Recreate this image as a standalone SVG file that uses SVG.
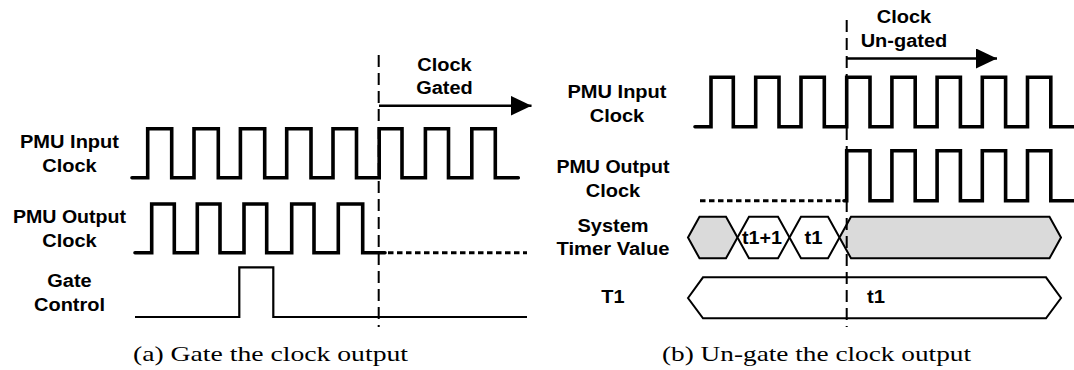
<svg xmlns="http://www.w3.org/2000/svg" width="1074" height="370" viewBox="0 0 1074 370">
<style>
.lbl{font-family:"Liberation Sans",Arial,sans-serif;font-weight:bold;font-size:18px;fill:#000;text-anchor:middle}
.cap{font-family:"Liberation Serif","Times New Roman",serif;font-size:22px;fill:#000}
.clk{fill:none;stroke:#000;stroke-width:3.6;stroke-linejoin:miter;stroke-linecap:round}
.dot{fill:none;stroke:#000;stroke-width:3;stroke-dasharray:5.5 3.5}
.thin{fill:none;stroke:#000;stroke-width:2.2}
.hexg{fill:#dadada;stroke:#000;stroke-width:2}
.hexw{fill:#fff;stroke:#000;stroke-width:2}
.vdash{fill:none;stroke:#000;stroke-width:2;stroke-dasharray:12 6}
.arr{fill:none;stroke:#000;stroke-width:2.4}
</style>
<defs>
<marker id="ah" markerUnits="userSpaceOnUse" markerWidth="22" markerHeight="22" refX="21" refY="10" orient="auto">
<polygon points="0,0 21,10 0,20" fill="#000"/>
</marker>
</defs>

<!-- Panel (a) -->
<g id="a-input-label">
<text class="lbl" x="69.5" y="147.7" textLength="99" lengthAdjust="spacingAndGlyphs">PMU Input</text>
<text class="lbl" x="69.5" y="171.7" textLength="54.5" lengthAdjust="spacingAndGlyphs">Clock</text>
</g>
<g id="a-input-clock">
<path class="clk" d="M132,177.7 H147.7 V128.7 H171.7 V177.7 H194 V128.7 H218.3 V177.7 H240.4 V128.7 H264.7 V177.7 H286.7 V128.7 H311 V177.7 H333 V128.7 H356.5 V177.7 H379.2 V128.7 H402 V177.7 H425.4 V128.7 H448.5 V177.7 H471.8 V128.7 H495.3 V177.7 H518.3"/>
</g>
<g id="a-output-label">
<text class="lbl" x="69.5" y="222.7" textLength="113" lengthAdjust="spacingAndGlyphs">PMU Output</text>
<text class="lbl" x="69.5" y="246.5" textLength="54.5" lengthAdjust="spacingAndGlyphs">Clock</text>
</g>
<g id="a-output-clock">
<path class="clk" d="M135,252.7 H151.7 V204 H174.3 V252.7 H197.3 V204 H220 V252.7 H244 V204 H266.7 V252.7 H291.7 V204 H314 V252.7 H338.3 V204 H362.7 V252.7 H385"/>
<path class="dot" d="M388,252.7 H527"/>
</g>
<g id="a-gate-label">
<text class="lbl" x="69.5" y="286.7" textLength="44.4" lengthAdjust="spacingAndGlyphs">Gate</text>
<text class="lbl" x="69.5" y="310.7" textLength="71" lengthAdjust="spacingAndGlyphs">Control</text>
</g>
<g id="a-gate-signal">
<path class="thin" d="M135,317 H239.3 V267.3 H273.3 V317 H527"/>
</g>
<g id="a-gated-label">
<text class="lbl" x="444.5" y="71" textLength="54.5" lengthAdjust="spacingAndGlyphs">Clock</text>
<text class="lbl" x="444.5" y="94.3" textLength="56.6" lengthAdjust="spacingAndGlyphs">Gated</text>
</g>

<!-- Panel (b) -->
<g id="b-input-label">
<text class="lbl" x="617" y="97.5" textLength="99" lengthAdjust="spacingAndGlyphs">PMU Input</text>
<text class="lbl" x="617" y="121.5" textLength="54.5" lengthAdjust="spacingAndGlyphs">Clock</text>
</g>
<g id="b-input-clock">
<path class="clk" d="M695,126.7 H711 V77.3 H733.3 V126.7 H755.7 V77.3 H779 V126.7 H801 V77.3 H824.3 V126.7 H846.7 V77.3 H870 V126.7 H891.9 V77.3 H915.2 V126.7 H937.1 V77.3 H960.4 V126.7 H982.3 V77.3 H1005.6 V126.7 H1027.5 V77.3 H1050.8 V126.7 H1076"/>
</g>
<g id="b-output-label">
<text class="lbl" x="613" y="173" textLength="113" lengthAdjust="spacingAndGlyphs">PMU Output</text>
<text class="lbl" x="613" y="197" textLength="54.5" lengthAdjust="spacingAndGlyphs">Clock</text>
</g>
<g id="b-output-clock">
<path class="dot" d="M700,200.7 H844"/>
<path class="clk" d="M844,200.7 H846.7 V150.7 H870 V200.7 H891.9 V150.7 H915.2 V200.7 H937.1 V150.7 H960.4 V200.7 H982.3 V150.7 H1005.6 V200.7 H1027.5 V150.7 H1050.8 V200.7 H1076"/>
</g>
<g id="b-timer-label">
<text class="lbl" x="613" y="231.7" textLength="71" lengthAdjust="spacingAndGlyphs">System</text>
<text class="lbl" x="613" y="255" textLength="113" lengthAdjust="spacingAndGlyphs">Timer Value</text>
</g>
<g id="b-timer-value">
<polygon class="hexg" points="688,237.5 699.5,216.7 726,216.7 737.5,237.5 726,258.3 699.5,258.3"/>
<polygon class="hexw" points="737.5,237.5 749,216.7 778,216.7 789.5,237.5 778,258.3 749,258.3"/>
<polygon class="hexw" points="789.5,237.5 801,216.7 828,216.7 839.5,237.5 828,258.3 801,258.3"/>
<polygon class="hexg" points="839.5,237.5 851,216.7 1049.5,216.7 1061,237.5 1049.5,258.3 851,258.3"/>
<text class="lbl" x="762" y="243.5" textLength="40" lengthAdjust="spacingAndGlyphs">t1+1</text>
<text class="lbl" x="813.5" y="243.5" textLength="18" lengthAdjust="spacingAndGlyphs">t1</text>
</g>
<g id="b-t1-label">
<text class="lbl" x="613" y="303.3" textLength="23.3" lengthAdjust="spacingAndGlyphs">T1</text>
</g>
<g id="b-t1-value">
<polygon class="hexw" points="688,298 703,277.3 1046,277.3 1061,298 1046,318.3 703,318.3"/>
<text class="lbl" x="876" y="303.3" textLength="18" lengthAdjust="spacingAndGlyphs">t1</text>
</g>
<g id="b-ungated-label">
<text class="lbl" x="904" y="23.3" textLength="54.5" lengthAdjust="spacingAndGlyphs">Clock</text>
<text class="lbl" x="904" y="46.7" textLength="86.6" lengthAdjust="spacingAndGlyphs">Un-gated</text>
</g>

<!-- Connectors: time markers and arrows -->
<g id="connectors">
<path class="vdash" d="M378.7,55 V327"/>
<path class="vdash" d="M846.7,20 V327"/>
<path class="arr" d="M379,105.7 H531.5" marker-end="url(#ah)"/>
<path class="arr" d="M847,58.5 H997" marker-end="url(#ah)"/>
</g>

<!-- Captions -->
<g id="captions">
<text class="cap" x="133" y="361" textLength="275" lengthAdjust="spacingAndGlyphs">(a) Gate the clock output</text>
<text class="cap" x="662" y="361" textLength="309" lengthAdjust="spacingAndGlyphs">(b) Un-gate the clock output</text>
</g>
</svg>
